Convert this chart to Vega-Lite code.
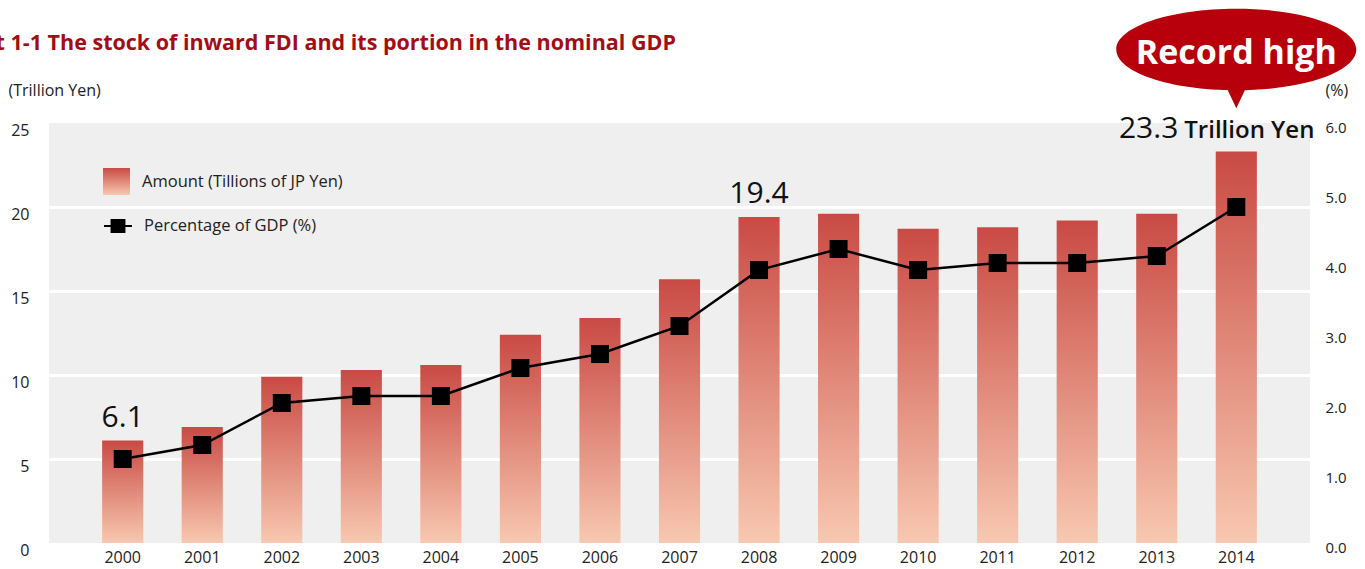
{
  "$schema": "https://vega.github.io/schema/vega-lite/v6.json",
  "autosize": {"type": "none"},
  "width": 1261,
  "height": 420,
  "padding": {"left": 49, "top": 123, "right": 55, "bottom": 26},
  "background": "white",
  "title": {
    "text": "Chart 1-1 The stock of inward FDI and its portion in the nominal GDP",
    "anchor": "start",
    "frame": "group",
    "font": "Open Sans",
    "fontSize": 21.5,
    "fontWeight": "bold",
    "color": "#a30d14",
    "dx": -104,
    "offset": -46
  },
  "config": {
    "view": {"stroke": null, "fill": "#efefef"},
    "font": "Open Sans",
    "axis": {"labelFont": "Open Sans", "titleFont": "Open Sans", "labelColor": "#222", "titleColor": "#222"},
    "legend": {"labelFont": "Open Sans"}
  },
  "data": {
    "values": [
      {"year": "2000", "amount": 6.1, "pct": 1.2, "label": "6.1"},
      {"year": "2001", "amount": 6.9, "pct": 1.4},
      {"year": "2002", "amount": 9.9, "pct": 2.0},
      {"year": "2003", "amount": 10.3, "pct": 2.1},
      {"year": "2004", "amount": 10.6, "pct": 2.1},
      {"year": "2005", "amount": 12.4, "pct": 2.5},
      {"year": "2006", "amount": 13.4, "pct": 2.7},
      {"year": "2007", "amount": 15.7, "pct": 3.1},
      {"year": "2008", "amount": 19.4, "pct": 3.9, "label": "19.4"},
      {"year": "2009", "amount": 19.6, "pct": 4.2},
      {"year": "2010", "amount": 18.7, "pct": 3.9},
      {"year": "2011", "amount": 18.8, "pct": 4.0},
      {"year": "2012", "amount": 19.2, "pct": 4.0},
      {"year": "2013", "amount": 19.6, "pct": 4.1},
      {"year": "2014", "amount": 23.3, "pct": 4.8, "label": "23.3", "unit": "Trillion Yen", "callout": "Record high"}
    ]
  },
  "encoding": {
    "x": {
      "field": "year",
      "type": "ordinal",
      "scale": {"paddingInner": 0.483, "paddingOuter": 0.668},
      "axis": {
        "title": null,
        "labelAngle": 0,
        "domain": false,
        "ticks": false,
        "labelPadding": 6,
        "labelFontSize": 16,
        "labelColor": "#222"
      }
    }
  },
  "layer": [
    {
      "encoding": {
        "y": {
          "field": "amount",
          "type": "quantitative",
          "scale": {"domain": [0, 25], "nice": false},
          "axis": {
            "orient": "left",
            "values": [0, 5, 10, 15, 20, 25],
            "grid": true,
            "gridColor": "white",
            "gridWidth": 3,
            "gridOpacity": {"condition": {"test": "datum.value == 0 || datum.value == 25", "value": 0}, "value": 1},
            "domain": false,
            "ticks": false,
            "labelPadding": 20,
            "labelOffset": 7,
            "labelFontSize": 16,
            "labelColor": "#222",
            "title": "(Trillion Yen)",
            "titleAngle": 0,
            "titleX": -41,
            "titleY": -33,
            "titleAlign": "left",
            "titleBaseline": "middle",
            "titleFontWeight": "normal",
            "titleFontSize": 16,
            "titleColor": "#222"
          }
        }
      },
      "layer": [
        {
          "mark": {
            "type": "bar",
            "strokeWidth": 0,
            "color": {
              "x1": 0, "y1": 0, "x2": 0, "y2": 1,
              "gradient": "linear",
              "stops": [
                {"offset": 0, "color": "#c94a44"},
                {"offset": 1, "color": "#f8c8b0"}
              ]
            }
          },
          "encoding": {
            "stroke": {
              "datum": "Amount (Tillions of JP Yen)",
              "type": "nominal",
              "scale": {"range": ["rgba(0,0,0,0)"]},
              "legend": {
                "title": null,
                "orient": "none",
                "legendX": 54,
                "legendY": 45,
                "padding": 0,
                "symbolType": "square",
                "symbolSize": 729,
                "symbolStrokeWidth": 0,
                "labelFontSize": 16.5,
                "labelColor": "#222",
                "labelOffset": 12,
                "labelLimit": 500
              }
            }
          }
        },
        {
          "transform": [{"filter": "datum.label && !datum.unit"}],
          "mark": {"type": "text", "baseline": "alphabetic", "align": "center", "dy": -14, "fontSize": 30, "color": "#111", "font": "Open Sans"},
          "encoding": {"text": {"field": "label"}}
        },
        {
          "transform": [{"filter": "datum.callout"}],
          "mark": {
            "type": "point",
            "shape": "M-1,0C-1,-0.188,-0.552,-0.34,0,-0.34C0.552,-0.34,1,-0.188,1,0C1,0.188,0.552,0.34,0,0.34C-0.552,0.34,-1,0.188,-1,0ZM0.09,0.3L0,0.49L-0.09,0.3Z",
            "size": 57600,
            "filled": true,
            "color": "#b7000b",
            "opacity": 1,
            "yOffset": -102
          },
          "encoding": {}
        },
        {
          "transform": [{"filter": "datum.callout"}],
          "mark": {"type": "text", "baseline": "alphabetic", "align": "center", "dy": -88, "fontSize": 34, "fontWeight": "bold", "color": "white", "font": "Open Sans"},
          "encoding": {"text": {"field": "callout"}}
        },
        {
          "transform": [{"filter": "datum.unit"}],
          "mark": {"type": "text", "baseline": "alphabetic", "align": "right", "dx": -58, "dy": -14, "fontSize": 30, "color": "#111", "font": "Open Sans"},
          "encoding": {"text": {"field": "label"}}
        },
        {
          "transform": [{"filter": "datum.unit"}],
          "mark": {"type": "text", "baseline": "alphabetic", "align": "left", "dx": -52, "dy": -14, "fontSize": 24, "fontWeight": 600, "color": "#111", "font": "Open Sans"},
          "encoding": {"text": {"field": "unit"}}
        }
      ]
    },
    {
      "encoding": {
        "y": {
          "field": "pct",
          "type": "quantitative",
          "scale": {"domain": [0, 6], "nice": false},
          "axis": {
            "orient": "right",
            "values": [0, 1, 2, 3, 4, 5, 6],
            "format": ".1f",
            "grid": false,
            "domain": false,
            "ticks": false,
            "labelPadding": 15,
            "labelOffset": 4,
            "labelFontSize": 15,
            "labelColor": "#222",
            "title": "(%)",
            "titleAngle": 0,
            "titleX": 15,
            "titleY": -33,
            "titleAlign": "left",
            "titleBaseline": "middle",
            "titleFontWeight": "normal",
            "titleFontSize": 16,
            "titleColor": "#222"
          }
        }
      },
      "layer": [
        {
          "mark": {"type": "line", "color": "black", "strokeWidth": 2.5}
        },
        {
          "mark": {"type": "point", "filled": true, "shape": "square", "size": 324, "color": "black", "opacity": 1},
          "encoding": {
            "fill": {
              "datum": "Percentage of GDP (%)",
              "type": "nominal",
              "scale": {"range": ["black"]},
              "legend": {
                "title": null,
                "orient": "none",
                "legendX": 54,
                "legendY": 88,
                "padding": 0,
                "symbolType": "M-1,0H1M-0.46,-0.42H0.46V0.42H-0.46Z",
                "symbolSize": 784,
                "symbolStrokeColor": "black",
                "symbolStrokeWidth": 2,
                "symbolOpacity": 1,
                "labelFontSize": 16.5,
                "labelColor": "#222",
                "labelOffset": 11,
                "labelLimit": 500
              }
            }
          }
        }
      ]
    }
  ],
  "resolve": {"scale": {"y": "independent"}}
}
